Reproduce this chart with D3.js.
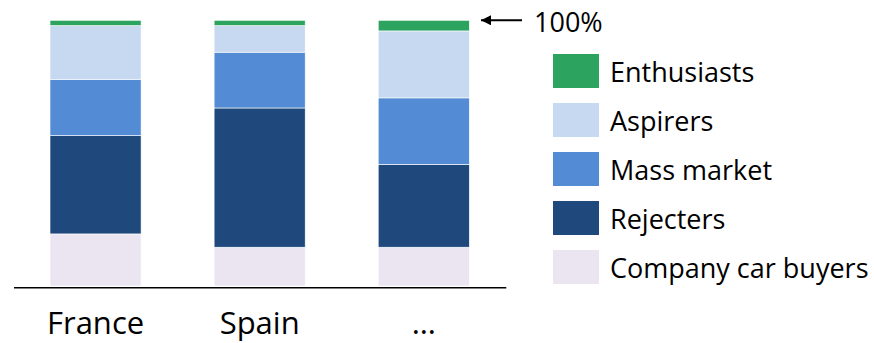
<!DOCTYPE html>
<html>
<head>
<meta charset="utf-8">
<script src="https://cdn.jsdelivr.net/npm/d3@7"></script>
<style>
  body { margin: 0; background: #fff; }
  text { font-family: "Open Sans", sans-serif; fill: #000; }
</style>
</head>
<body>
<script>
// data (shares of each market, bottom to top)
var countries = ["France", "Spain", "…"];
var segments = ["Company car buyers", "Rejecters", "Mass market", "Aspirers", "Enthusiasts"];
var companyCar = [19.6, 14.6, 14.6];
var rejecters = [37.0, 52.4, 31.2];
var massMarket = [21.2, 21.0, 25.0];
var aspirers = [20.2, 10.0, 25.2];
var enthusiasts = [2.0, 2.0, 4.0];
var colors = ["#ebe5f2", "#1f497d", "#538cd4", "#c6d9f0", "#2ca35f"];

var width = 874, height = 343;

var svg = d3.select("body").append("svg")
  .attr("width", width)
  .attr("height", height);

var rows = countries.map(function(c, i) {
  return {
    country: c,
    "Company car buyers": companyCar[i],
    "Rejecters": rejecters[i],
    "Mass market": massMarket[i],
    "Aspirers": aspirers[i],
    "Enthusiasts": enthusiasts[i]
  };
});

var stack = d3.stack().keys(segments);
var series = stack(rows);

var x = d3.scaleBand()
  .domain(countries)
  .range([13.5, 505.8])
  .paddingInner(0.445)
  .paddingOuter(0.2225);

var y = d3.scaleLinear()
  .domain([0, 100])
  .range([286, 20.3]);

var color = d3.scaleOrdinal().domain(segments).range(colors);

svg.append("g")
  .selectAll("g")
  .data(series)
  .enter()
  .append("g")
  .attr("fill", function(d) { return color(d.key); })
  .selectAll("rect")
  .data(function(d) { return d; })
  .enter()
  .append("rect")
  .attr("x", function(d) { return x(d.data.country); })
  .attr("y", function(d) { return y(d[1]); })
  .attr("width", x.bandwidth())
  .attr("height", function(d) { return y(d[0]) - y(d[1]); })
  .attr("stroke", "#fff")
  .attr("stroke-width", 0.6);

// x axis
var xAxis = svg.append("g")
  .attr("transform", "translate(0,287.3)")
  .call(d3.axisBottom(x).tickSize(0).tickSizeOuter(0).tickPadding(25));

xAxis.select(".domain")
  .attr("stroke", "#000")
  .attr("stroke-width", 1.5);

xAxis.selectAll("text")
  .style("font-family", "'Open Sans', sans-serif")
  .style("font-size", "31px")
  .attr("fill", "#000");

// 100% marker
var markerY = y(100);
svg.append("defs").append("marker")
  .attr("id", "arrow")
  .attr("viewBox", "0 0 10 10")
  .attr("refX", 10)
  .attr("refY", 5)
  .attr("markerWidth", 6)
  .attr("markerHeight", 5)
  .attr("markerUnits", "strokeWidth")
  .attr("orient", "auto")
  .append("path")
  .attr("d", "M0,0L10,5L0,10z")
  .attr("fill", "#000");

svg.append("line")
  .attr("x1", 522)
  .attr("x2", 481)
  .attr("y1", markerY)
  .attr("y2", markerY)
  .attr("stroke", "#000")
  .attr("stroke-width", 2)
  .attr("marker-end", "url(#arrow)");

svg.append("text")
  .attr("x", 534)
  .attr("y", 32.3)
  .style("font-size", "27px")
  .text("100%");

// legend (top to bottom)
var legendItems = segments.slice().reverse();
var ly = d3.scaleBand()
  .domain(legendItems)
  .range([54, 284])
  .paddingInner(0.306);

var legend = svg.append("g")
  .selectAll("g")
  .data(legendItems)
  .enter()
  .append("g")
  .attr("transform", function(d) { return "translate(553," + ly(d) + ")"; });

legend.append("rect")
  .attr("width", 46)
  .attr("height", ly.bandwidth())
  .attr("fill", function(d) { return color(d); });

legend.append("text")
  .attr("x", 57)
  .attr("y", ly.bandwidth() / 2)
  .attr("dy", "0.42em")
  .style("font-size", "27px")
  .text(function(d) { return d; });
</script>
</body>
</html>
